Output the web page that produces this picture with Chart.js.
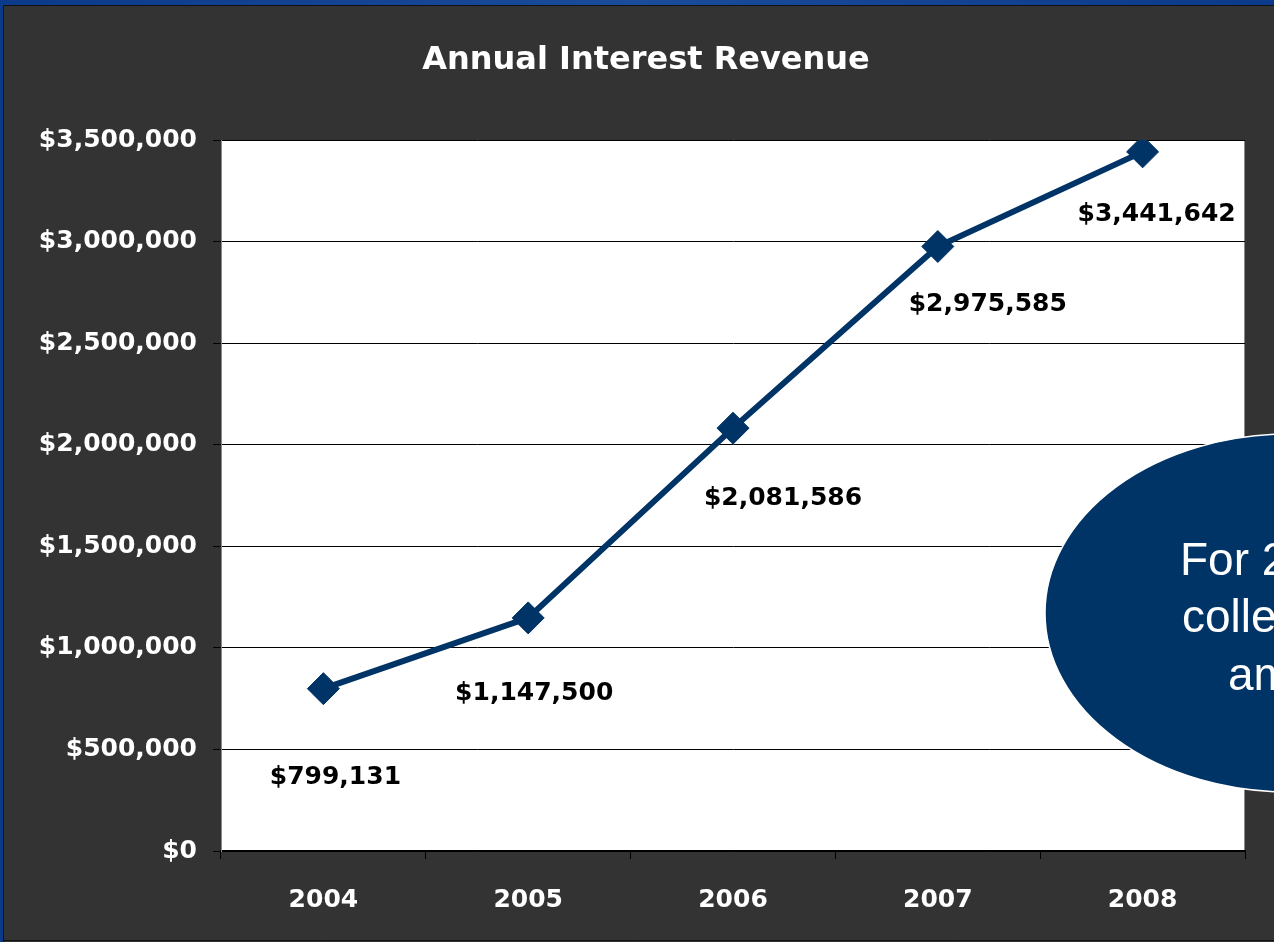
<!DOCTYPE html>
<html>
<head>
<meta charset="utf-8">
<title>Annual Interest Revenue</title>
<script src="https://cdn.jsdelivr.net/npm/chart.js@4.4.1/dist/chart.umd.min.js"></script>
<style>
  html, body { margin: 0; padding: 0; background: #0d3c8f; overflow: hidden; }
  canvas { display: block; }
</style>
</head>
<body>
<canvas id="revenue" width="1274" height="942"></canvas>
<script>
// revenue collected per year
const years = ['2004', '2005', '2006', '2007', '2008']
const revenue = [799131, 1147500, 2081586, 2975585, 3441642]
const yTicks = [0, 500000, 1000000, 1500000, 2000000, 2500000, 3000000, 3500000]

// where each value label sits relative to its marker
const labelDx = [12, 6, 50, 50, 14]
const labelDy = [89, 76, 70, 58, 63]

const chartTitle = 'Annual Interest Revenue'
// callout text (runs off the right edge)
const calloutLines = ['For 2', 'colle', 'am']

const NAVY = '#003366'
const FONT = '"DejaVu Sans", sans-serif'

const money = v => '$' + Math.round(v).toLocaleString('en-US')

// slide frame, heading and white plot area
const backdrop = {
  id: 'backdrop',
  beforeDraw(chart) {
    const { ctx, chartArea: a, width, height } = chart
    ctx.save()
    const g = ctx.createLinearGradient(0, 0, width, 0)
    g.addColorStop(0, '#0b3a8a')
    g.addColorStop(0.5, '#1a4c9c')
    g.addColorStop(1, '#0b3a8a')
    ctx.fillStyle = g
    ctx.fillRect(0, 0, width, height)
    ctx.fillStyle = '#333333'
    ctx.fillRect(3, 5, width - 3, height - 5)
    ctx.strokeStyle = '#111'
    ctx.lineWidth = 1
    ctx.beginPath()
    ctx.moveTo(3.5, height)
    ctx.lineTo(3.5, 5.5)
    ctx.lineTo(width, 5.5)
    ctx.moveTo(3, height - 1.5)
    ctx.lineTo(width, height - 1.5)
    ctx.stroke()

    ctx.fillStyle = '#ffffff'
    ctx.font = 'bold 32px ' + FONT
    ctx.textAlign = 'center'
    ctx.textBaseline = 'middle'
    ctx.fillText(chartTitle, 646, 61)

    ctx.fillRect(a.left, a.top, a.right - a.left, a.bottom - a.top)
    ctx.strokeStyle = '#8a8a8a'
    ctx.strokeRect(a.left + 0.5, a.top + 0.5, a.right - a.left - 1, a.bottom - a.top)
    ctx.restore()
  }
}

// value labels under each marker
const valueLabels = {
  id: 'valueLabels',
  afterDatasetsDraw(chart) {
    const { ctx } = chart
    const pts = chart.getDatasetMeta(0).data
    ctx.save()
    ctx.font = 'bold 25px ' + FONT
    ctx.fillStyle = '#000'
    ctx.textAlign = 'center'
    ctx.textBaseline = 'middle'
    pts.forEach((p, i) => {
      ctx.fillText(money(revenue[i]), p.x + labelDx[i], p.y + labelDy[i])
    })
    ctx.restore()
  }
}

// navy oval callout on the right
const callout = {
  id: 'callout',
  afterDraw(chart) {
    const { ctx } = chart
    ctx.save()
    ctx.beginPath()
    ctx.ellipse(1290, 613, 245, 179, 0, 0, Math.PI * 2)
    ctx.fillStyle = NAVY
    ctx.fill()
    ctx.strokeStyle = '#ffffff'
    ctx.lineWidth = 1.5
    ctx.stroke()
    ctx.fillStyle = '#ffffff'
    ctx.font = '46px "Liberation Sans", Arial, sans-serif'
    ctx.textAlign = 'left'
    ctx.textBaseline = 'alphabetic'
    const xs = [1180, 1182, 1228]
    const ys = [575, 632, 690]
    calloutLines.forEach((t, i) => ctx.fillText(t, xs[i], ys[i]))
    ctx.restore()
  }
}

new Chart(document.getElementById('revenue'), {
  type: 'line',
  data: {
    labels: years,
    datasets: [{
      label: 'Interest Revenue',
      data: revenue,
      borderColor: NAVY,
      borderWidth: 6,
      backgroundColor: NAVY,
      pointStyle: 'rectRot',
      pointRadius: 16,
      pointBorderWidth: 1,
      pointBackgroundColor: NAVY,
      pointBorderColor: NAVY,
      tension: 0,
      fill: false
    }]
  },
  options: {
    responsive: false,
    animation: false,
    devicePixelRatio: 1,
    layout: { padding: { left: 0, right: 29, top: 140, bottom: 0 } },
    scales: {
      x: {
        offset: true,
        grid: {
          offset: true,
          drawOnChartArea: false,
          drawTicks: true,
          tickLength: 8,
          color: '#000'
        },
        border: { display: true, color: '#000', width: 1.5 },
        ticks: {
          color: '#ffffff',
          font: { family: FONT, size: 25, weight: 'bold' },
          padding: 26
        },
        afterFit: s => { s.height = 91 }
      },
      y: {
        min: 0,
        max: 3500000,
        afterBuildTicks: s => { s.ticks = yTicks.map(v => ({ value: v })) },
        grid: {
          color: '#000',
          lineWidth: 1,
          drawTicks: true,
          tickLength: 8
        },
        border: { display: true, color: '#8a8a8a' },
        ticks: {
          color: '#ffffff',
          font: { family: FONT, size: 25, weight: 'bold' },
          padding: 16,
          callback: v => money(v)
        },
        afterFit: s => { s.width = 221 }
      }
    },
    plugins: {
      legend: { display: false },
      tooltip: { enabled: false },
      title: { display: false }
    }
  },
  plugins: [backdrop, valueLabels, callout]
})
</script>
</body>
</html>
